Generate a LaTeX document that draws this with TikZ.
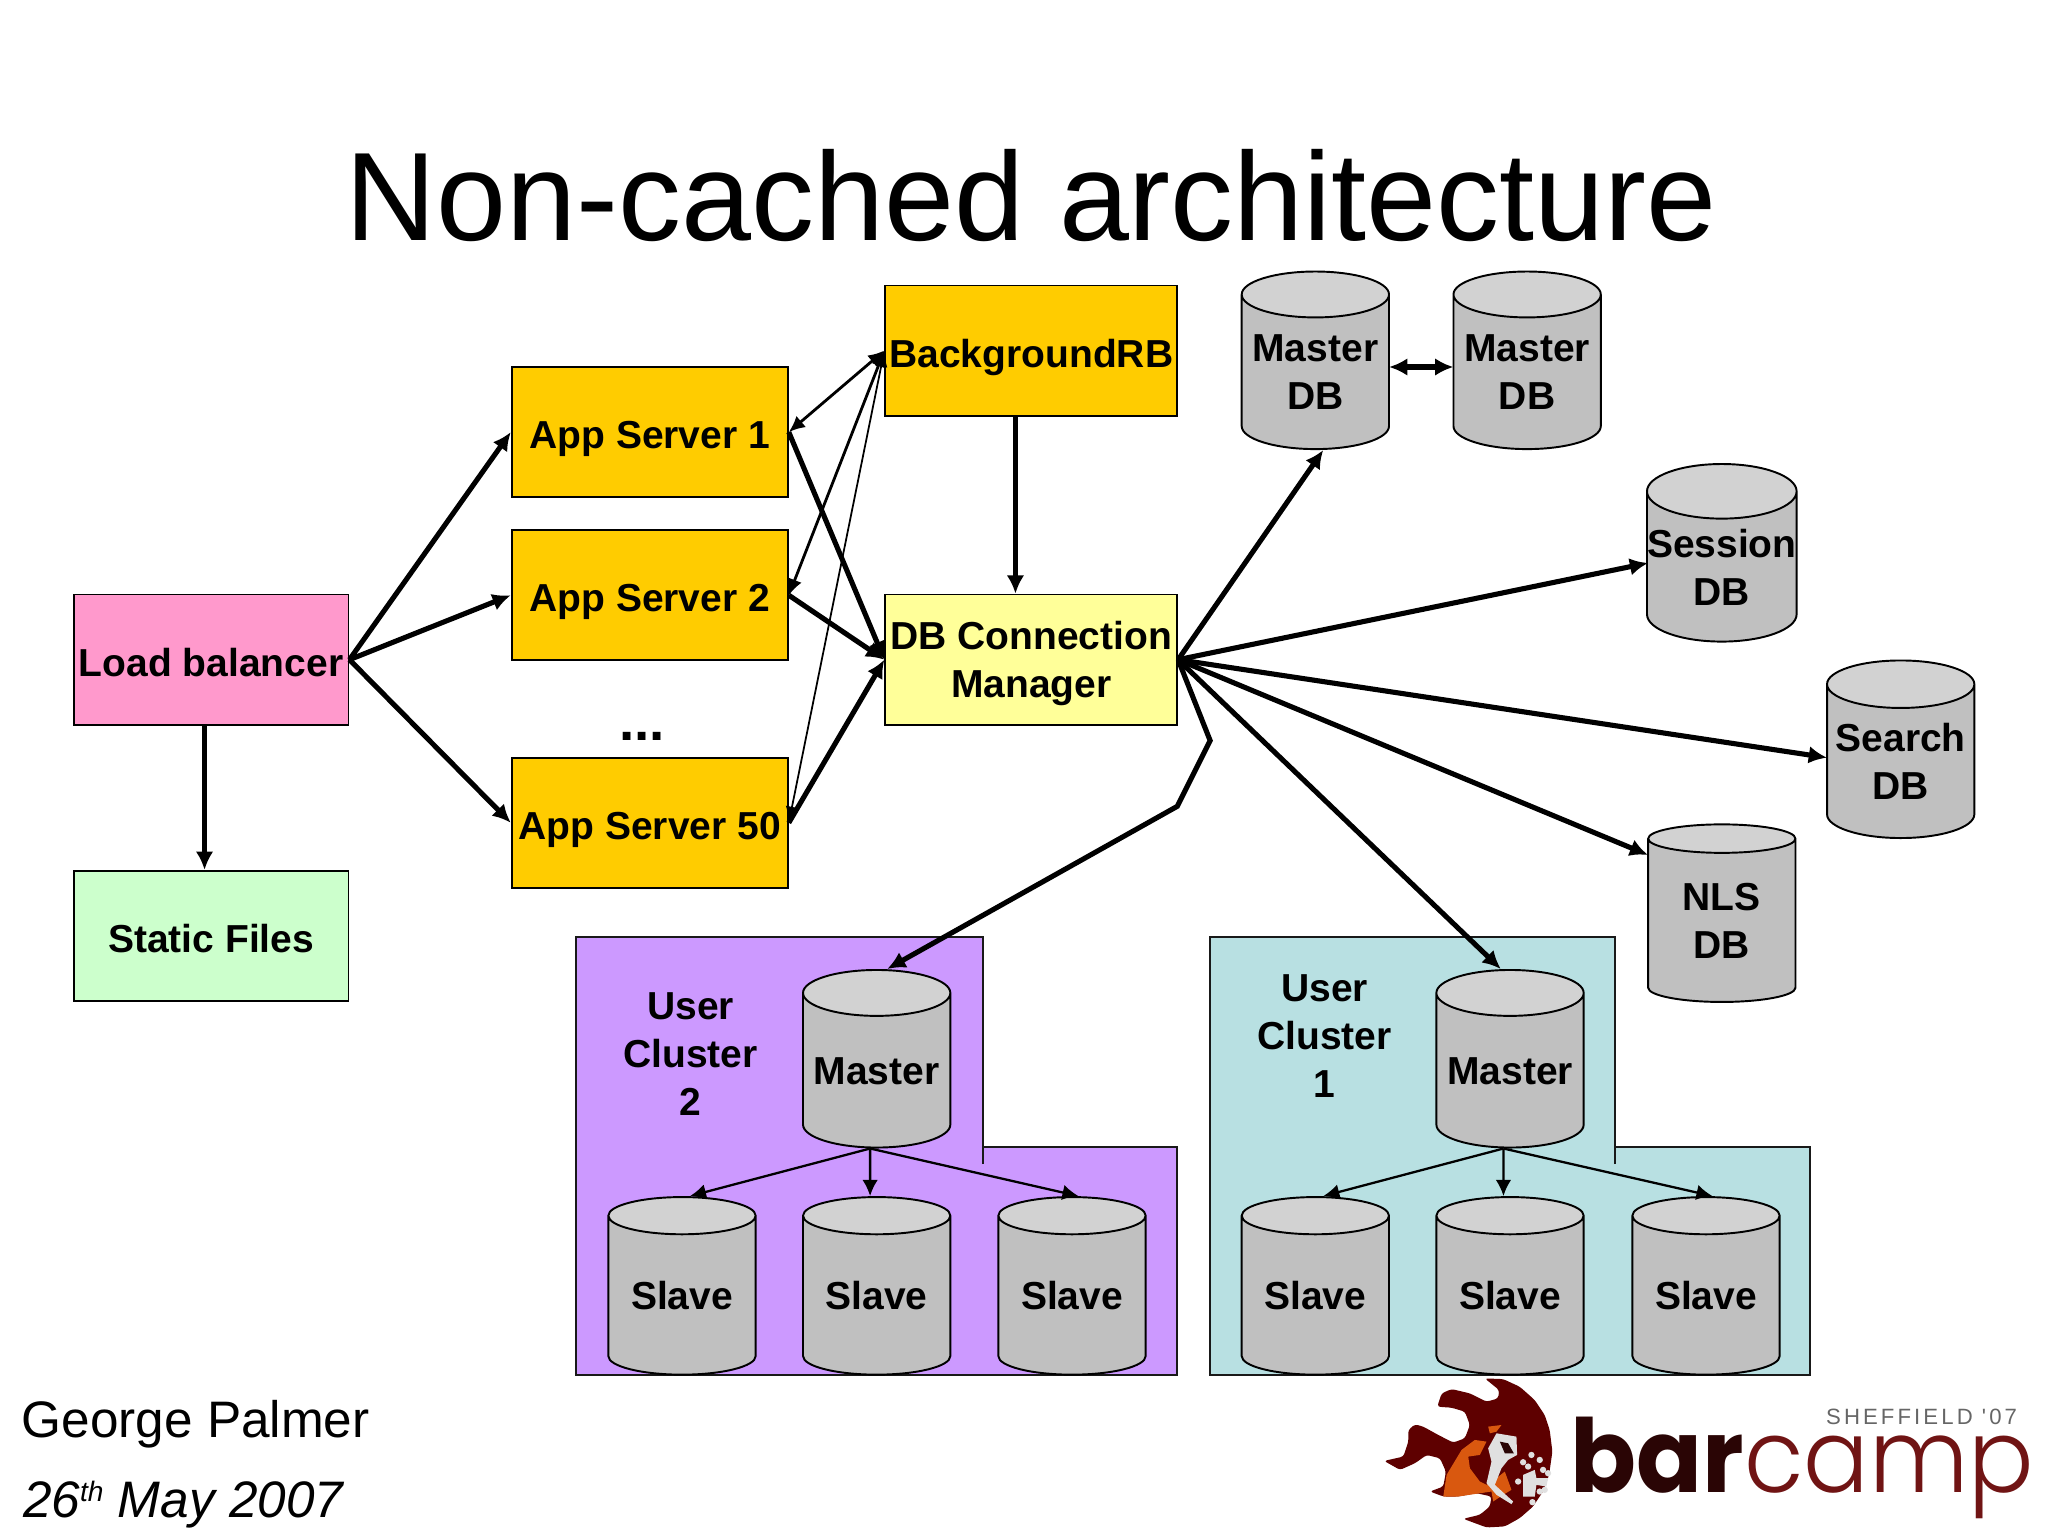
\documentclass[tikz,border=0pt]{standalone}
\usepackage{fontspec}
\setmainfont{Liberation Sans}
\newfontfamily\logobold{Poppins}[UprightFont=* Bold]
\newfontfamily\logolight{Poppins}[UprightFont=* Light]
\newfontfamily\logosmall{Liberation Sans}[LetterSpace=14]
\usetikzlibrary{shapes.geometric,arrows.meta,calc}
\definecolor{boxpink}{HTML}{FF99CC}
\definecolor{boxgreen}{HTML}{CCFFCC}
\definecolor{boxorange}{HTML}{FFCC00}
\definecolor{boxyellow}{HTML}{FFFF99}
\definecolor{clpurple}{HTML}{CC99FF}
\definecolor{clteal}{HTML}{B8E0E2}
\definecolor{cylbody}{HTML}{C0C0C0}
\definecolor{cyltop}{HTML}{D2D2D2}
\definecolor{logored}{HTML}{5E0000}
\definecolor{logodark}{HTML}{2A0505}
\definecolor{logocamp}{HTML}{701414}
\definecolor{logoorange}{HTML}{D9580F}
\newcommand{\du}{0.013153cm}
\tikzset{
  label/.style={font=\fontsize{11.1}{13.65}\selectfont\bfseries, align=center, text depth=0pt},
  box/.style={label, draw=black, line width=0.5pt, inner sep=0pt,
    minimum width=#1*\du, minimum height=99*\du,
    execute at begin node={\rule{0pt}{9.5pt}}},
  cyl/.style={label, cylinder, shape border rotate=90, aspect=0.365, draw=black,
    line width=0.55pt, inner sep=0pt, minimum width=112*\du, minimum height=135*\du,
    cylinder uses custom fill, cylinder body fill=cylbody, cylinder end fill=cyltop},
  cluster/.style={draw=black!90, line width=0.55pt},
  heavy/.style={line width=1.45pt, -{Latex[length=5.2pt,width=5pt]}},
  heavyboth/.style={line width=1.45pt, {Latex[length=5.2pt,width=5pt]}-{Latex[length=5.2pt,width=5pt]}},
  both/.style={line width=0.8pt, {Latex[length=4.6pt,width=4.2pt]}-{Latex[length=4.6pt,width=4.2pt]}},
  fine/.style={line width=0.5pt, {Latex[length=4.6pt,width=3.6pt]}-{Latex[length=4.6pt,width=3.6pt]}},
  tree/.style={line width=0.65pt, -{Latex[length=4.6pt,width=4.4pt]}},
}
\begin{document}
\begin{tikzpicture}[x=\du, y=-\du]
  \useasboundingbox (0,0) rectangle (1557,1168);

  % title and footer
  \node (title) [anchor=base, font=\fontsize{35.8}{40}\selectfont] at (784,183) {Non-cached architecture};
  \node (author) [anchor=base west, inner sep=0pt, font=\fontsize{14.6}{17}\selectfont] at (16,1093) {George Palmer};
  \node (date) [anchor=base west, inner sep=0pt, font=\fontsize{14.6}{17}\selectfont\itshape] at (17,1154)
    {26\raisebox{4.6pt}{\fontsize{8}{9}\selectfont th} May 2007};

  % cluster backgrounds
  \fill[clpurple] (438,712) -- (747,712) -- (747,872) -- (895,872) -- (895,1045) -- (438,1045) -- cycle;
  \draw[cluster] (747,885) -- (747,712) -- (438,712) -- (438,1045) -- (895,1045) -- (895,872) -- (747,872);
  \fill[clteal] (920,712) -- (1228,712) -- (1228,872) -- (1376,872) -- (1376,1045) -- (920,1045) -- cycle;
  \draw[cluster] (1228,885) -- (1228,712) -- (920,712) -- (920,1045) -- (1376,1045) -- (1376,872) -- (1228,872);

  % boxes
  \node (lb) [box=209, fill=boxpink] at (160.5,501.5) {Load balancer};
  \node (static) [box=209, fill=boxgreen] at (160.5,711.5) {Static Files};
  \node (app1) [box=210, fill=boxorange] at (494,328.5) {App Server 1};
  \node (app2) [box=210, fill=boxorange] at (494,452.5) {App Server 2};
  \node (app50) [box=210, fill=boxorange] at (494,625.5) {App Server 50};
  \node (dots) [anchor=base, font=\fontsize{15.6}{17}\selectfont\bfseries] at (488,563) {...};
  \node (brb) [box=222, fill=boxorange] at (784,266.5) {BackgroundRB};
  \node (dbc) [box=222, fill=boxyellow] at (784,501.5) {DB Connection\\Manager};

  % databases
  \node (m1) [cyl] at (1000,283) {Master\\DB};
  \node (m2) [cyl] at (1161,283) {Master\\DB};
  \node (sess) [cyl] at (1309,431) {Session\\DB};
  \node (srch) [cyl] at (1445,579) {Search\\DB};
  \node (nls) [cyl] at (1309,700) {NLS\\DB};

  % user cluster 2
  \node (c2) [label] at (525,801) {User\\Cluster\\2};
  \node (c2m) [cyl] at (666.5,814) {Master};
  \node (c2a) [cyl] at (518.5,985) {Slave};
  \node (c2b) [cyl] at (666.5,985) {Slave};
  \node (c2c) [cyl] at (815,985) {Slave};

  % user cluster 1
  \node (c1) [label] at (1007,788) {User\\Cluster\\1};
  \node (c1m) [cyl] at (1148,814) {Master};
  \node (c1a) [cyl] at (1000,985) {Slave};
  \node (c1b) [cyl] at (1148,985) {Slave};
  \node (c1c) [cyl] at (1297,985) {Slave};

  % bends of the link to cluster 2
  \coordinate (bend1) at (920,563);
  \coordinate (bend2) at (895,613);

  % front of the system
  \draw[heavy] (lb.east) -- (app1.west);
  \draw[heavy] (lb.east) -- (app2.west);
  \draw[heavy] (lb.east) -- (app50.west);
  \draw[heavy] ($(lb.south)+(-5,0)$) -- ($(static.north)+(-5,0)$);

  % app servers
  \draw[both] (app1.east) -- (brb.west);
  \draw[both] (app2.east) -- (brb.west);
  \draw[fine] (app50.east) -- (brb.west);
  \draw[heavy] (app1.east) -- (dbc.west);
  \draw[heavy] (app2.east) -- (dbc.west);
  \draw[heavy] (app50.east) -- (dbc.west);
  \draw[heavy] ($(brb.south)+(-12,0)$) -- ($(dbc.north)+(-12,0)$);

  % database links
  \draw[heavy] (dbc.east) -- ($(m1.south)+(6,0)$);
  \draw[heavy] (dbc.east) -- ($(sess.center)+(-56,-3)$);
  \draw[heavy] (dbc.east) -- ($(srch.center)+(-56,-3)$);
  \draw[heavy] (dbc.east) -- ($(nls.center)+(-56,-50)$);
  \draw[heavy] (dbc.east) -- ($(c1m.north)+(-7,0)$);
  \draw[heavy] (dbc.east) -- (bend1) -- (bend2) -- ($(c2m.north)+(8,0)$);
  \draw[heavyboth] ($(m1.center)+(56,-4)$) -- ($(m2.center)+(-56,-4)$);

  % replication
  \foreach \n in {c2,c1}{
    \draw[tree] ($(\n m.south)+(-5,0)$) -- ($(\n a.north)+(6,0)$);
    \draw[tree] ($(\n m.south)+(-5,0)$) -- ($(\n b.north)+(-5,0)$);
    \draw[tree] ($(\n m.south)+(-5,0)$) -- ($(\n c.north)+(5,0)$);
  }

  % logo
  \begin{scope}[shift={(1049.2,1045.4)}, x=0.003333cm, y=-0.003333cm]
    \fill[logored, rounded corners=0.8pt] (315,10) -- (370,12) -- (420,35) -- (465,75) -- (495,120)
      -- (510,165) -- (518,230) -- (508,300) -- (490,350) -- (460,395) -- (420,430) -- (375,455)
      -- (320,458) -- (250,432) -- (300,420) -- (330,395) -- (335,365) -- (290,355) -- (235,365)
      -- (190,365) -- (150,350) -- (190,335) -- (198,290) -- (180,250) -- (140,240) -- (105,265)
      -- (60,285) -- (12,258) -- (70,245) -- (85,200) -- (85,165) -- (105,148) -- (130,155)
      -- (175,180) -- (220,203) -- (255,190) -- (270,150) -- (255,110) -- (215,98) -- (172,95)
      -- (185,55) -- (215,42) -- (270,55) -- (320,80) -- (355,70) -- (358,45) -- cycle;
    \fill[logoorange] (245,225) -- (200,300) -- (190,365) -- (235,365) -- (335,350) -- (340,380)
      -- (370,360) -- (395,345) -- (375,290) -- (350,310) -- (320,330) -- (300,320) -- (270,280)
      -- (265,245) -- (300,240) -- (320,200) -- (285,195) -- cycle;
    \fill[logoorange] (325,155) -- (365,150) -- (350,170) -- (330,175) -- cycle;
    \fill[black!12] (350,175) -- (410,185) -- (412,240) -- (385,255) -- (365,280) -- (345,330)
      -- (400,380) -- (395,388) -- (350,360) -- (320,325) -- (335,260) -- (325,220) -- cycle;
    \fill[logodark] (360,200) -- (385,205) -- (402,235) -- (375,235) -- cycle;
    \fill[black!12] (430,300) -- (465,285) -- (470,310) -- (505,310) -- (500,335) -- (470,330) -- (465,365) -- (430,365) -- cycle;
    \foreach \p in {(430,262),(455,240),(480,255),(445,275),(490,285),(505,295),(480,350),(458,382),(415,320),(495,345)}
      \fill[black!12] \p circle (0.9pt);
  \end{scope}
  \node (barcamp) [anchor=base west, inner sep=0pt, font=\fontsize{29}{31}\selectfont] at (1193.5,1135)
    {\scalebox{0.953}[1]{{\logobold\color{logodark}bar}{\logolight\color{logocamp}camp}}};
  \node (sheff) [anchor=base east, inner sep=0pt, text=black!60, font=\fontsize{6.3}{7}\selectfont\logosmall] at (1534,1083) {SHEFFIELD '07};
\end{tikzpicture}
\end{document}
